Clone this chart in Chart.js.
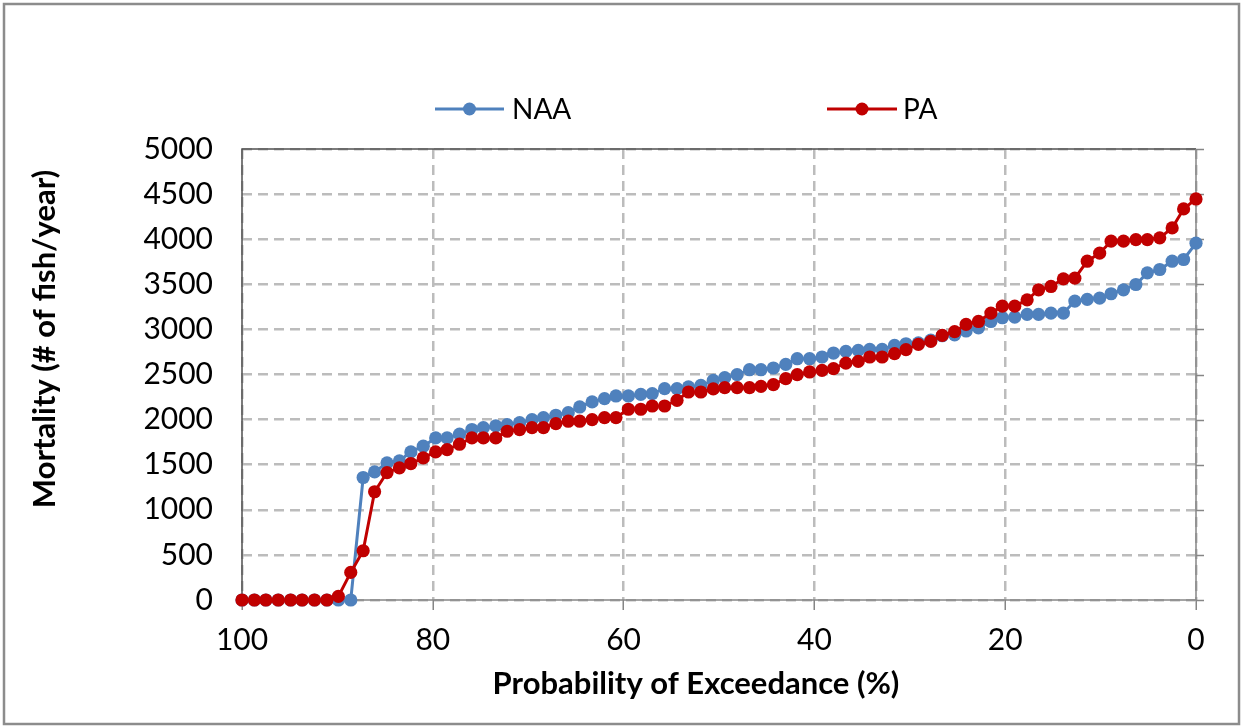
<!DOCTYPE html>
<html>
<head>
<meta charset="utf-8">
<script src="https://cdn.jsdelivr.net/npm/chart.js@4/dist/chart.umd.min.js"></script>
<style>
html, body { margin: 0; padding: 0; background: #ffffff; }
#wrap { width: 1243px; height: 727px; position: relative; }
canvas { display: block; }
</style>
</head>
<body>
<div id="wrap"><canvas id="c" width="1243" height="727"></canvas></div>
<script>
// Probability of exceedance (%) for each ranked year
const exceedance = [
  100, 98.7, 97.5, 96.2, 94.9, 93.7, 92.4, 91.1, 89.9, 88.6,
  87.3, 86.1, 84.8, 83.5, 82.3, 81.0, 79.7, 78.5, 77.2, 75.9,
  74.7, 73.4, 72.2, 70.9, 69.6, 68.4, 67.1, 65.8, 64.6, 63.3,
  62.0, 60.8, 59.5, 58.2, 57.0, 55.7, 54.4, 53.2, 51.9, 50.6,
  49.4, 48.1, 46.8, 45.6, 44.3, 43.0, 41.8, 40.5, 39.2, 38.0,
  36.7, 35.4, 34.2, 32.9, 31.6, 30.4, 29.1, 27.8, 26.6, 25.3,
  24.1, 22.8, 21.5, 20.3, 19.0, 17.7, 16.5, 15.2, 13.9, 12.7,
  11.4, 10.1, 8.9, 7.6, 6.3, 5.1, 3.8, 2.5, 1.3, 0
];

// NAA mortality (# of fish/year)
const naaValues = [
  0, 0, 0, 0, 0, 0, 0, 0, 0, 0,
  1358, 1420, 1520, 1542, 1642, 1705, 1797, 1797, 1838, 1890,
  1911, 1930, 1945, 1967, 2000, 2022, 2048, 2077, 2140, 2196,
  2232, 2262, 2262, 2280, 2288, 2343, 2343, 2362, 2380, 2435,
  2465, 2498, 2553, 2553, 2572, 2612, 2675, 2675, 2694, 2738,
  2756, 2768, 2779, 2779, 2823, 2841, 2850, 2880, 2930, 2940,
  2982, 3018, 3088, 3129, 3137, 3166, 3166, 3181, 3181, 3314,
  3332, 3347, 3395, 3439, 3498, 3627, 3664, 3756, 3775, 3956
];

// PA mortality (# of fish/year)
const paValues = [
  0, 0, 0, 0, 0, 0, 0, 0, 40, 306,
  546, 1200, 1413, 1465, 1513, 1575, 1642, 1668, 1727, 1797,
  1797, 1797, 1871, 1889, 1911, 1911, 1956, 1982, 1982, 2000,
  2022, 2022, 2115, 2115, 2151, 2151, 2214, 2306, 2306, 2340,
  2354, 2354, 2354, 2369, 2387, 2454, 2498, 2528, 2546, 2565,
  2627, 2646, 2694, 2694, 2731, 2775, 2834, 2867, 2934, 2975,
  3055, 3088, 3181, 3258, 3258, 3328, 3439, 3476, 3561, 3568,
  3756, 3845, 3978, 3978, 3996, 3996, 4015, 4125, 4336, 4446
];

const seriesNames = ['NAA', 'PA'];
const seriesColors = ['#4F81BD', '#C00000'];
const xTickValues = [100, 80, 60, 40, 20, 0];
const yTickValues = [0, 500, 1000, 1500, 2000, 2500, 3000, 3500, 4000, 4500, 5000];
const xTitle = 'Probability of Exceedance (%)';
const yTitle = 'Mortality (# of fish/year)';

const FONT = 'Lato, "Open Sans", "DejaVu Sans", sans-serif';

function toPoints(xs, ys) {
  return xs.map((x, i) => ({ x: x, y: ys[i] }));
}

const decorPlugin = {
  id: 'decor',
  beforeDraw(chart) {
    const ctx = chart.ctx;
    ctx.save();
    ctx.fillStyle = '#ffffff';
    ctx.fillRect(0, 0, chart.width, chart.height);
    ctx.restore();
  },
  beforeDatasetsDraw(chart) {
    const ctx = chart.ctx;
    const a = chart.chartArea;
    const ys = chart.scales.y;
    ctx.save();
    // plot area frame
    ctx.strokeStyle = '#505050';
    ctx.lineWidth = 1.5;
    ctx.beginPath();
    ctx.moveTo(a.left, a.bottom);
    ctx.lineTo(a.left, a.top);
    ctx.lineTo(a.right, a.top);
    ctx.stroke();
    // value axis line on the right with small outside ticks
    ctx.strokeStyle = '#868686';
    ctx.beginPath();
    ctx.moveTo(a.right, a.top);
    ctx.lineTo(a.right, a.bottom);
    ctx.stroke();
    ctx.beginPath();
    yTickValues.forEach(v => {
      const py = Math.round(ys.getPixelForValue(v)) + 0.5;
      ctx.moveTo(a.right, py);
      ctx.lineTo(a.right + 8, py);
    });
    ctx.stroke();
    // category axis line at bottom
    ctx.beginPath();
    ctx.moveTo(a.left, a.bottom);
    ctx.lineTo(a.right, a.bottom);
    ctx.stroke();
    ctx.restore();
  },
  afterDraw(chart) {
    const ctx = chart.ctx;
    ctx.save();
    // outer frame
    ctx.strokeStyle = '#8c8c8c';
    ctx.lineWidth = 2.5;
    ctx.strokeRect(4, 4, chart.width - 8, chart.height - 7);

    // axis titles
    ctx.fillStyle = '#000000';
    ctx.font = 'bold 31px ' + FONT;
    ctx.textAlign = 'center';
    ctx.textBaseline = 'middle';
    ctx.fillText(xTitle, 696, 684);
    ctx.save();
    ctx.translate(45, 339);
    ctx.rotate(-Math.PI / 2);
    ctx.fillText(yTitle, 0, 0);
    ctx.restore();

    // legend
    const legendItems = [
      { x0: 435, x1: 504, tx: 512 },
      { x0: 827, x1: 897, tx: 903 }
    ];
    const ly = 109;
    legendItems.forEach((it, i) => {
      ctx.strokeStyle = seriesColors[i];
      ctx.lineWidth = 3;
      ctx.beginPath();
      ctx.moveTo(it.x0, ly);
      ctx.lineTo(it.x1, ly);
      ctx.stroke();
      ctx.fillStyle = seriesColors[i];
      ctx.beginPath();
      ctx.arc((it.x0 + it.x1) / 2, ly, 6.5, 0, Math.PI * 2);
      ctx.fill();
      ctx.fillStyle = '#000000';
      ctx.font = '28px ' + FONT;
      ctx.textAlign = 'left';
      ctx.textBaseline = 'middle';
      ctx.fillText(seriesNames[i], it.tx, ly + 1);
    });
    ctx.restore();
  }
};

const ctx = document.getElementById('c').getContext('2d');
new Chart(ctx, {
  type: 'line',
  data: {
    datasets: [
      {
        label: seriesNames[0],
        data: toPoints(exceedance, naaValues),
        borderColor: seriesColors[0],
        backgroundColor: seriesColors[0],
        pointBackgroundColor: seriesColors[0],
        pointBorderColor: seriesColors[0],
        borderWidth: 3,
        pointRadius: 6.6,
        pointBorderWidth: 0,
        tension: 0,
        fill: false,
        clip: false,
        order: 1
      },
      {
        label: seriesNames[1],
        data: toPoints(exceedance, paValues),
        borderColor: seriesColors[1],
        backgroundColor: seriesColors[1],
        pointBackgroundColor: seriesColors[1],
        pointBorderColor: seriesColors[1],
        borderWidth: 3,
        pointRadius: 6.6,
        pointBorderWidth: 0,
        tension: 0,
        fill: false,
        clip: false,
        order: 0
      }
    ]
  },
  options: {
    responsive: false,
    animation: false,
    devicePixelRatio: 1,
    layout: { padding: { left: 0, right: 47, top: 149, bottom: 0 } },
    plugins: {
      legend: { display: false },
      tooltip: { enabled: false },
      title: { display: false }
    },
    scales: {
      x: {
        type: 'linear',
        min: 0,
        max: 100,
        reverse: true,
        afterBuildTicks(scale) { scale.ticks = xTickValues.map(v => ({ value: v })); },
        afterFit(scale) { scale.height = 127; },
        ticks: {
          color: '#000000',
          font: { family: FONT, size: 30 },
          padding: 12,
          maxRotation: 0,
          autoSkip: false,
          callback: (v) => String(v)
        },
        grid: {
          color: '#bcbcbc',
          lineWidth: 2.5,
          drawTicks: true,
          tickLength: 10,
          tickColor: '#868686',
          tickWidth: 1.5,
          tickBorderDash: []
        },
        border: { display: false, dash: [10, 6] }
      },
      y: {
        type: 'linear',
        min: 0,
        max: 5000,
        afterBuildTicks(scale) { scale.ticks = yTickValues.map(v => ({ value: v })); },
        afterFit(scale) { scale.width = 242; },
        ticks: {
          color: '#000000',
          font: { family: FONT, size: 30 },
          padding: 29,
          autoSkip: false,
          callback: (v) => String(v)
        },
        grid: {
          color: '#bcbcbc',
          lineWidth: 2.5,
          drawTicks: false
        },
        border: { display: false, dash: [10, 6] }
      }
    }
  },
  plugins: [decorPlugin]
});
</script>
</body>
</html>
